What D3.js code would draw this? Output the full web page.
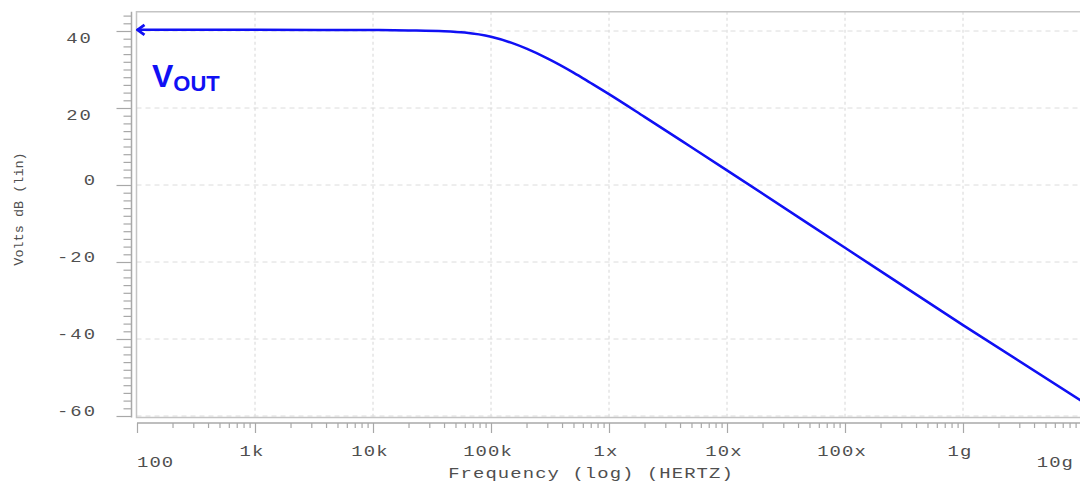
<!DOCTYPE html>
<html>
<head>
<meta charset="utf-8">
<script src="https://cdn.jsdelivr.net/npm/d3@7"></script>
<style>
  html, body { margin: 0; padding: 0; background: #fff; }
  svg { display: block; }
  .mono { font-family: "Liberation Mono", "DejaVu Sans Mono", monospace; fill: #4f4f4f; }
</style>
</head>
<body>
<svg id="chart" width="1080" height="486"></svg>
<script>
// ---- data ----
const freqHz = [100, 1e3, 1e4, 2e4, 4e4, 6e4, 1e5, 1.5e5, 2e5, 3e5, 5e5, 7e5, 1e6, 2e6, 5e6, 1e7, 1e8, 1e9, 1e10];
const voutDb = [40.3, 40.3, 40.25, 40.15, 39.95, 39.6, 38.5, 36.9, 35.4, 32.9, 29.2, 26.5, 23.6, 17.7, 9.8, 3.8, -16.3, -36.4, -56.0];
const xTickValues = [1e2, 1e3, 1e4, 1e5, 1e6, 1e7, 1e8, 1e9, 1e10];
const xTickLabels = ["100", "1k", "10k", "100k", "1x", "10x", "100x", "1g", "10g"];
const yTickValues = [40, 20, 0, -20, -40, -60];
const yTickLabels = ["40", "20", "0", "-20", "-40", "-60"];
const seriesName = ["V", "OUT"];
const xTitle = "Frequency (log) (HERTZ)";
const yTitle = "Volts dB (lin)";

const svg = d3.select("#chart");
const W = 1080, H = 486;
const SX = 1.35; // horizontal stretch of the wide mono font

const x = d3.scaleLog().domain([1e2, 1e10]).range([137, 1081]);
const y = d3.scaleLinear().domain([-60, 40]).range([416, 31]);

const frameTop = y(45), frameBottom = 417.5, frameLeft = 136.5, frameRight = 1090;
const blue = "#1010f4";

// grid
const grid = svg.append("g");
grid.selectAll("line.vg").data(xTickValues.slice(1)).join("line")
  .attr("x1", d => x(d)).attr("x2", d => x(d))
  .attr("y1", frameTop).attr("y2", frameBottom)
  .attr("stroke", "#d6d6d6").attr("stroke-width", 1).attr("stroke-dasharray", "3,3");
grid.selectAll("line.hg").data(yTickValues).join("line")
  .attr("x1", frameLeft).attr("x2", frameRight)
  .attr("y1", d => y(d)).attr("y2", d => y(d))
  .attr("stroke", "#dcdcdc").attr("stroke-width", 1).attr("stroke-dasharray", "5,4");

// frame
svg.append("rect")
  .attr("x", frameLeft).attr("y", frameTop)
  .attr("width", frameRight - frameLeft).attr("height", frameBottom - frameTop)
  .attr("fill", "none").attr("stroke", "#c4c4c4").attr("stroke-width", 1.5);

// left ruler
const rulerX = 131.5;
svg.append("line").attr("x1", rulerX).attr("x2", rulerX)
  .attr("y1", frameTop).attr("y2", frameBottom)
  .attr("stroke", "#a8a8a8").attr("stroke-width", 1.5);
const yMinor = d3.range(-60, 45, 2).filter(v => v % 20 !== 0);
const axL1 = svg.append("g").attr("transform", `translate(${rulerX},0)`)
  .call(d3.axisLeft(y).tickValues(yMinor).tickSize(8).tickSizeOuter(0).tickFormat(""));
const axL2 = svg.append("g").attr("transform", `translate(${rulerX},0)`)
  .call(d3.axisLeft(y).tickValues(yTickValues).tickSize(15).tickSizeOuter(0).tickFormat(""));
[axL1, axL2].forEach(g => {
  g.select(".domain").remove();
  g.selectAll(".tick line").attr("stroke", "#a8a8a8").attr("stroke-width", 1.2);
});
// y labels
svg.append("g").selectAll("text").data(yTickValues).join("text")
  .attr("class", "mono")
  .attr("transform", d => `translate(${d > 0 ? 93 : 97},${y(d) + (d > 0 ? 12 : 0)}) scale(${SX},1)`)
  .attr("text-anchor", "end")
  .style("font-size", "14px").style("letter-spacing", "1.5px")
  .text((d, i) => yTickLabels[i]);

// bottom ruler
const rulerY = 423;
svg.append("line").attr("x1", 137).attr("x2", W)
  .attr("y1", rulerY).attr("y2", rulerY)
  .attr("stroke", "#a8a8a8").attr("stroke-width", 1.5);
const xMinor = [];
for (let e = 2; e < 10; e++) for (let m = 2; m <= 9; m++) xMinor.push(m * Math.pow(10, e));
const axB1 = svg.append("g").attr("transform", `translate(0,${rulerY})`)
  .call(d3.axisBottom(x).tickValues(xMinor).tickSize(5).tickSizeOuter(0).tickFormat(""));
const axB2 = svg.append("g").attr("transform", `translate(0,${rulerY})`)
  .call(d3.axisBottom(x).tickValues(xTickValues).tickSize(10).tickSizeOuter(0).tickFormat(""));
[axB1, axB2].forEach(g => {
  g.select(".domain").remove();
  g.selectAll(".tick line").attr("stroke", "#a8a8a8").attr("stroke-width", 1.2);
});
// x labels
const nX = xTickValues.length;
svg.append("g").selectAll("text").data(xTickValues).join("text")
  .attr("class", "mono")
  .attr("transform", (d, i) => {
    const px = i === 0 ? x(d) : (i === nX - 1 ? x(d) - 7 : x(d) - 3);
    const py = (i === 0 || i === nX - 1) ? 467 : 456;
    return `translate(${px},${py}) scale(${SX},1)`;
  })
  .attr("text-anchor", (d, i) => i === 0 ? "start" : (i === nX - 1 ? "end" : "middle"))
  .style("font-size", "14px").style("letter-spacing", "0.8px")
  .text((d, i) => xTickLabels[i]);

// axis titles
svg.append("text").attr("class", "mono")
  .attr("transform", `translate(591,478) scale(${SX},1)`)
  .attr("text-anchor", "middle")
  .style("font-size", "14px").style("letter-spacing", "0.8px")
  .text(xTitle);
svg.append("text").attr("class", "mono")
  .attr("transform", "translate(23,209) rotate(-90)")
  .attr("text-anchor", "middle")
  .style("font-size", "13.5px")
  .text(yTitle);

// clip
svg.append("clipPath").attr("id", "plotclip").append("rect")
  .attr("x", frameLeft - 12).attr("y", frameTop).attr("width", W - frameLeft + 12).attr("height", frameBottom - frameTop);

// arrow marker (open chevron pointing left at the start of the trace)
const defs = svg.append("defs");
defs.append("marker").attr("id", "arrow")
  .attr("viewBox", "-1 -7 12 14").attr("refX", 0.5).attr("refY", 0)
  .attr("markerWidth", 12).attr("markerHeight", 14)
  .attr("markerUnits", "userSpaceOnUse").attr("orient", "auto")
  .append("path").attr("d", "M8,-5 L1,0 L8,5")
  .attr("fill", "none").attr("stroke", blue).attr("stroke-width", 2.8)
  .attr("stroke-linejoin", "miter");

const pts = freqHz.map((f, i) => [f, voutDb[i]]);
const line = d3.line().x(d => x(d[0])).y(d => y(d[1])).curve(d3.curveMonotoneX);
svg.append("path").datum(pts)
  .attr("clip-path", "url(#plotclip)")
  .attr("d", line)
  .attr("fill", "none").attr("stroke", blue).attr("stroke-width", 2.5)
  .attr("marker-start", "url(#arrow)");

// series label
const lbl = svg.append("text").attr("x", 152).attr("y", 87)
  .style("font-family", "'Liberation Sans', Arial, sans-serif").style("font-weight", "bold")
  .attr("fill", blue);
lbl.append("tspan").style("font-size", "32px").text(seriesName[0]);
lbl.append("tspan").style("font-size", "22px").attr("dy", 4).text(seriesName[1]);
</script>
</body>
</html>
